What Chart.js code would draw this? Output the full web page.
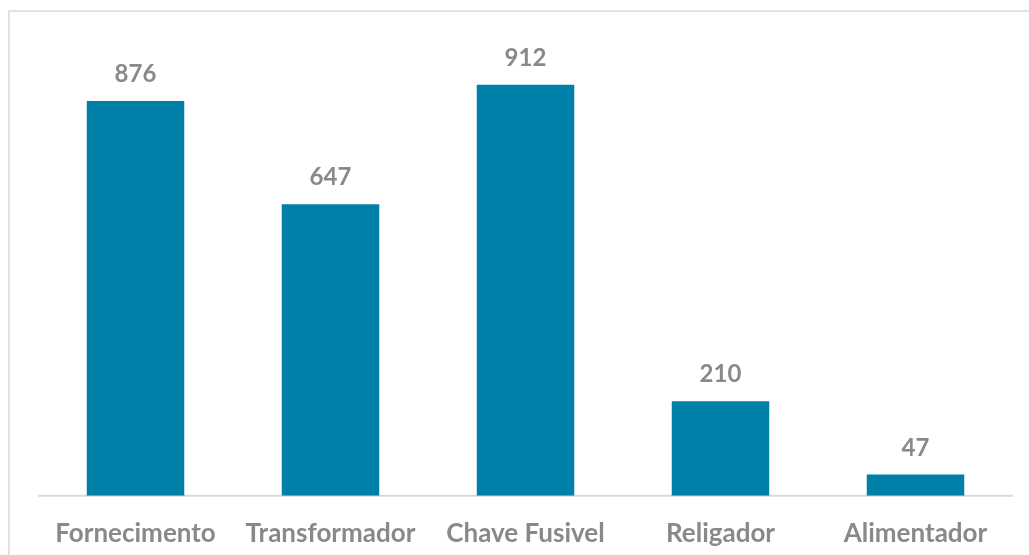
<!DOCTYPE html>
<html lang="pt">

<head>
    <meta charset="UTF-8">
    <title>Ocorrências por equipamento</title>
    <script src="https://cdn.jsdelivr.net/npm/chart.js"></script>
    <style>
        html, body {
            margin: 0;
            padding: 0;
            background: #fff;
            overflow: hidden;
        }

        #moldura {
            position: absolute;
            left: 8px;
            top: 10px;
            width: 1040px;
            height: 560px;
            border-left: 2px solid #e3e3e3;
            border-top: 2px solid #e3e3e3;
        }

        #grafico {
            position: absolute;
            left: 0;
            top: 0;
            width: 1029px;
            height: 555px;
        }
    </style>
</head>

<body>
    <div id="moldura"></div>
    <div id="grafico">
        <canvas id="graficoBarras"></canvas>
    </div>

    <script>
        // dados
        const categorias = ['Fornecimento', 'Transformador', 'Chave Fusivel', 'Religador', 'Alimentador'];
        const ocorrencias = [876, 647, 912, 210, 47];

        // linha do eixo + valor em cima de cada barra
        const rotulosValor = {
            id: 'rotulosValor',
            beforeDatasetsDraw(chart) {
                const ctx = chart.ctx;
                const area = chart.chartArea;
                const y0 = chart.scales.y.getPixelForValue(0);
                ctx.save();
                ctx.strokeStyle = '#d9d9d9';
                ctx.lineWidth = 2;
                ctx.beginPath();
                ctx.moveTo(area.left, y0);
                ctx.lineTo(area.right, y0);
                ctx.stroke();
                ctx.restore();
            },
            afterDatasetsDraw(chart) {
                const ctx = chart.ctx;
                const meta = chart.getDatasetMeta(0);
                ctx.save();
                ctx.fillStyle = '#898989';
                ctx.font = 'bold 24px Lato';
                ctx.textAlign = 'center';
                ctx.textBaseline = 'alphabetic';
                meta.data.forEach(function (barra, i) {
                    ctx.fillText(ocorrencias[i], barra.x, barra.y - 19);
                });
                ctx.restore();
            }
        };

        const configBarras = {
            type: 'bar',
            data: {
                labels: categorias,
                datasets: [{
                    label: 'Ocorrências',
                    data: ocorrencias,
                    backgroundColor: '#0080a9',
                    borderWidth: 0,
                    barPercentage: 1,
                    categoryPercentage: 0.5
                }]
            },
            plugins: [rotulosValor],
            options: {
                responsive: true,
                maintainAspectRatio: false,
                animation: false,
                layout: {
                    padding: { left: 38, right: 16, top: 45, bottom: -16 }
                },
                plugins: {
                    legend: { display: false },
                    tooltip: { enabled: false }
                },
                scales: {
                    x: {
                        grid: { display: false, drawTicks: false },
                        border: { display: false },
                        ticks: {
                            color: '#898989',
                            padding: 22,
                            maxRotation: 0,
                            autoSkip: false,
                            font: { family: 'Lato', size: 26, weight: 'bold' }
                        }
                    },
                    y: {
                        display: false,
                        min: 0,
                        max: 1000
                    }
                }
            }
        };

        const GraficoBarras = new Chart(
            document.getElementById('graficoBarras'),
            configBarras
        );
    </script>
</body>

</html>
